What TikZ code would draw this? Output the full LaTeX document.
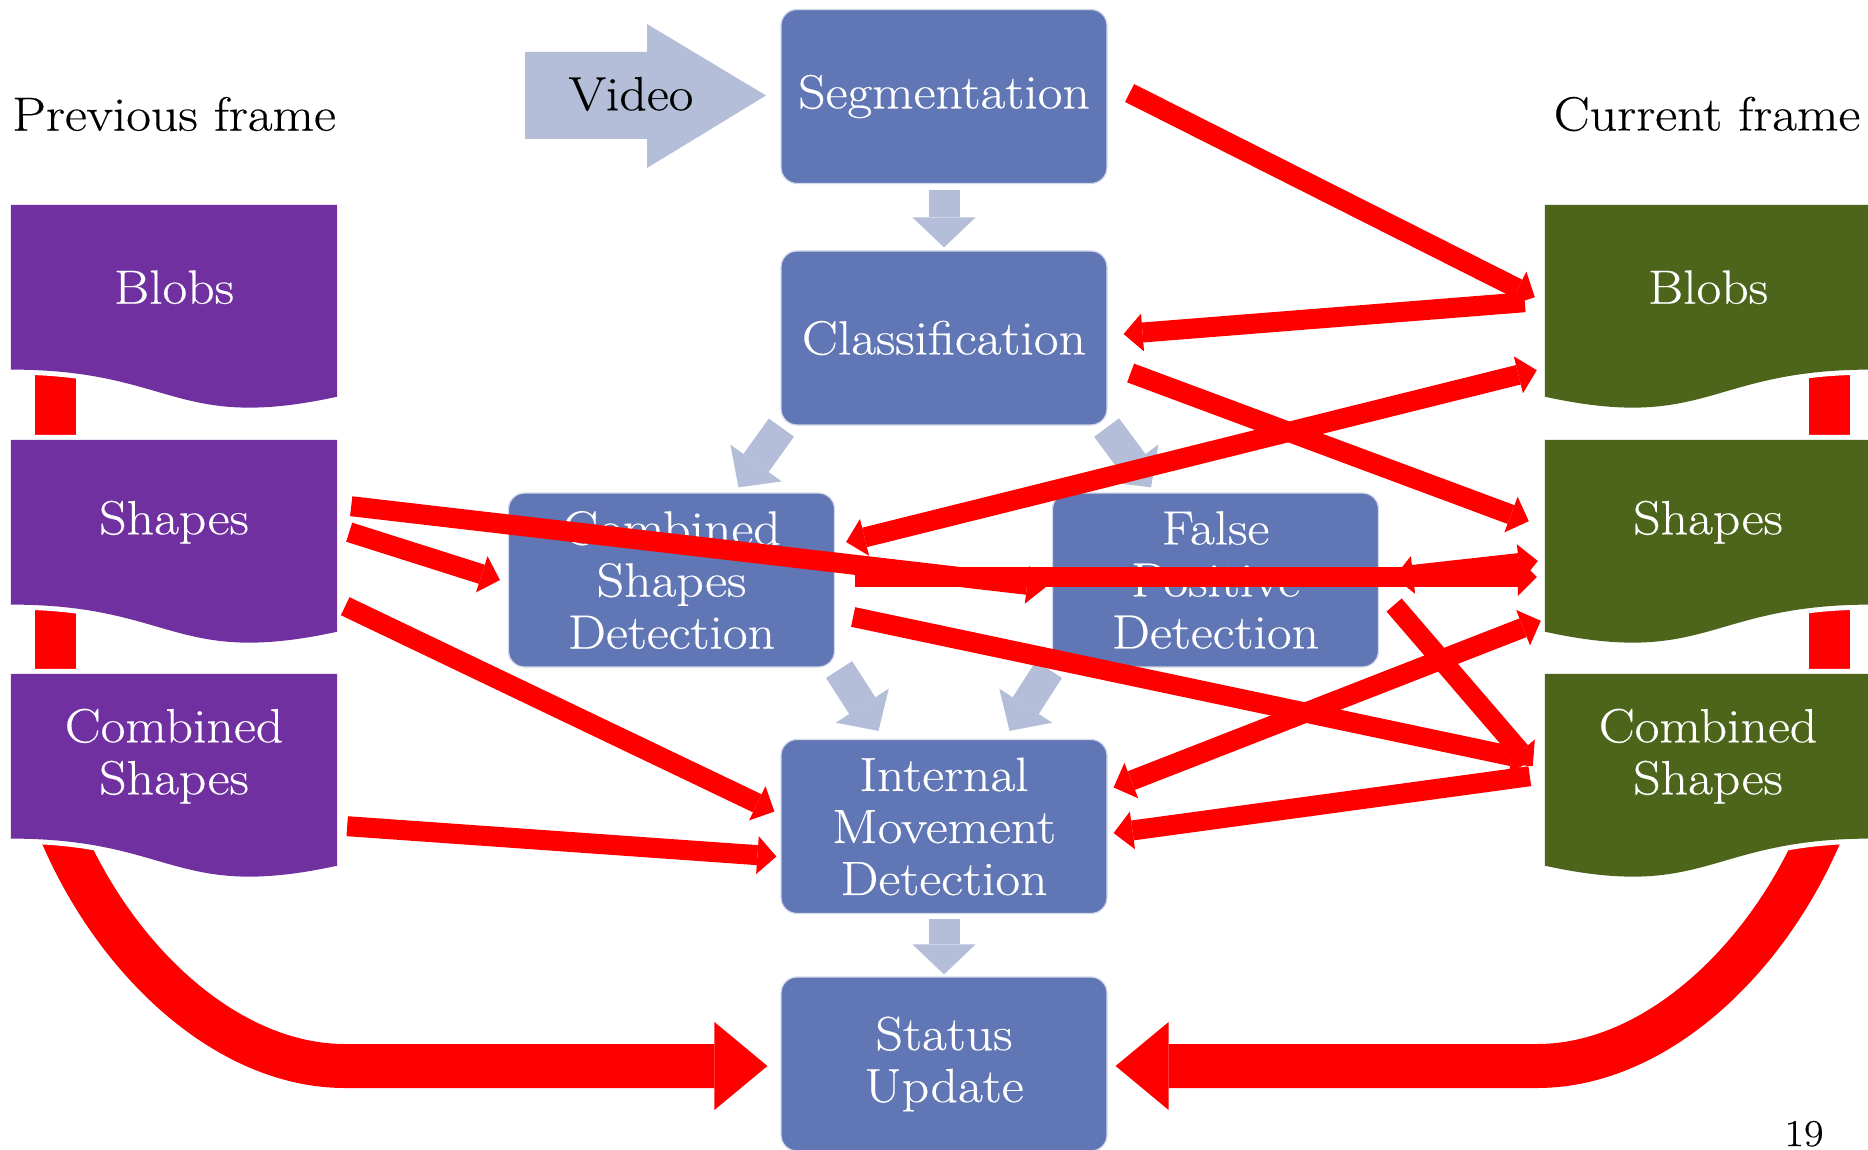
\documentclass[tikz,border=0pt]{standalone}
\usepackage{fontspec}
\setmainfont{Latin Modern Roman}[FakeStretch=1.12,FakeBold=0.4]
\usetikzlibrary{arrows.meta,backgrounds}

\definecolor{procblue}{RGB}{97,118,180}
\definecolor{flowgrey}{RGB}{181,190,216}
\definecolor{prevpurple}{RGB}{112,48,160}
\definecolor{currgreen}{RGB}{77,101,27}
\definecolor{linkred}{RGB}{255,0,0}
\pgfdeclareradialshading{slidebg}{\pgfpoint{0bp}{0bp}}{color(0bp)=(white); color(26bp)=(white); color(43bp)=(black!12); color(50bp)=(black!17)}

\begin{document}
\begin{tikzpicture}[
  x=1pt, y=-1pt,
  font=\fontsize{48}{52}\selectfont,
  >={Triangle[length=19pt,width=38pt,line width=0pt]},
  proc/.style={draw=white!72!procblue,line width=1.2pt,rounded corners=16pt,
               fill=procblue,text=white,minimum width=326pt,minimum height=174pt,
               align=center,inner sep=0pt},
  doc/.style={minimum width=326pt,minimum height=164.4pt,align=center,
              text=white,inner sep=0pt},
  docfill/.style={preaction={draw=white,line width=10pt}},
  flow/.style={draw=flowgrey,line width=31pt,
               -{Triangle[length=30pt,width=63pt,line width=0pt]}},
  link/.style={draw=linkred,line width=20pt,->},
  twoway/.style={link,<->},
  feedback/.style={draw=linkred,line width=44pt,
                   -{Triangle[length=53pt,width=88pt,line width=0pt]}},
  bridge/.style={draw=linkred,line width=41pt},
]
\useasboundingbox (0,0) rectangle (1868,1150);

% ---- headings over the two frame columns ----
\node (prevlbl) at (174,114) {Previous frame};
\node (currlbl) at (1707,114) {Current frame};

% ---- previous frame: purple cards ----
\node[doc] (pblobs)  at (174,287.2) {Blobs};
\node[doc] (pshapes) at (174,522.2) {Shapes};
\node[doc] (pcomb)   at (174,756.2) {Combined\\Shapes};

% ---- current frame: green cards ----
\node[doc] (cblobs)  at (1708,287.2) {Blobs};
\node[doc] (cshapes) at (1708,522.2) {Shapes};
\node[doc] (ccomb)   at (1708,756.2) {Combined\\Shapes};

% ---- processing chain ----
\node (video) at (631,94) {Video};
\node[proc] (seg) at (944,96.5)   {Segmentation};
\node[proc] (cls) at (944,338)    {Classification};
\node[proc] (csd) at (671.5,580)  {Combined\\Shapes\\Detection};
\node[proc] (fpd) at (1215.5,580) {False\\Positive\\Detection};
\node[proc] (imd) at (944,826.5)  {Internal\\Movement\\Detection};
\node[proc] (sta) at (944,1064)   {Status\\Update};

\node[anchor=base,font=\fontsize{38}{38}\selectfont] (pagenum) at (1804,1146) {19};

% backdrop: slide shading, input arrow, card bodies and the links under them
\begin{scope}[on background layer]
  \clip (0,0) rectangle (1868,1150);
  \shade[shading=slidebg] (-163,-522) rectangle (2031,1672);
  \fill[flowgrey] (525,52) -- (647,52) -- (647,24) -- (766,95.5)
        -- (647,168) -- (647,139) -- (525,139) -- cycle;

  % cards of one frame are chained
  \draw[bridge] ([xshift=45pt]pblobs.south west) -- ([xshift=45pt]pshapes.north west);
  \draw[bridge] ([xshift=45pt]pshapes.south west) -- ([xshift=45pt]pcomb.north west);
  \draw[bridge] ([xshift=-42pt]cblobs.south east) -- ([xshift=-42pt]cshapes.north east);
  \draw[bridge] ([xshift=-42pt]cshapes.south east) -- ([xshift=-42pt]ccomb.north east);

  % both combined shapes feed the status update
  \draw[feedback] ([xshift=48pt,yshift=12pt]pcomb.south west)
        .. controls (112,957) and (225,1066) .. (345,1066)
        -- ([xshift=-13pt,yshift=-2pt]sta.west);
  \draw[feedback] ([xshift=-48pt,yshift=12pt]ccomb.south east)
        .. controls (1770,957) and (1657,1066) .. (1537,1066)
        -- ([xshift=8pt,yshift=-2pt]sta.east);

  % document-shaped cards (left ones mirrored)
  \foreach \d in {pblobs,pshapes,pcomb}
    \fill[prevpurple,docfill] (\d.north west) -- (\d.north east)
        -- ([yshift=-27.1pt]\d.south east)
        .. controls ([yshift=-62.7pt]\d.south) and (\d.south) .. (\d.south west) -- cycle;
  \foreach \d in {cblobs,cshapes,ccomb}
    \fill[currgreen,docfill] (\d.north west) -- (\d.north east) -- (\d.south east)
        .. controls (\d.south) and ([yshift=-62.7pt]\d.south)
        .. ([yshift=-27.1pt]\d.south west) -- cycle;
\end{scope}

% ---- grey flow between the stages ----
\draw[flow] ([yshift=-6pt]seg.south) -- ([yshift=3pt]cls.north);
\draw[flow] ([xshift=1pt,yshift=-2pt]cls.south west) -- ([xshift=67pt,yshift=5pt]csd.north);
\draw[flow] ([xshift=-1pt,yshift=-2pt]cls.south east) -- ([xshift=-64.5pt,yshift=5pt]fpd.north);
\draw[flow] ([xshift=4pt,yshift=-2pt]csd.south east) -- ([xshift=-65.5pt,yshift=8pt]imd.north);
\draw[flow] ([xshift=-3pt,yshift=-2pt]fpd.south west) -- ([xshift=65.5pt,yshift=8pt]imd.north);
\draw[flow] ([yshift=-5pt]imd.south) -- ([yshift=2pt]sta.north);

% ---- red data links between frames and stages ----
\draw[link] ([xshift=22pt,yshift=3.5pt]seg.east) -- ([xshift=-10pt,yshift=-10pt]cblobs.west);
\draw[link] ([xshift=-20pt,yshift=-15pt]cblobs.west) -- ([xshift=16pt,yshift=4pt]cls.east);
\draw[link] ([xshift=23pt,yshift=-35pt]cls.east) -- ([xshift=-16pt,yshift=1pt]cshapes.west);
\draw[twoway] ([xshift=11pt,yshift=38pt]csd.east) -- ([xshift=-8pt,yshift=-83pt]cblobs.west);
\draw[link] ([xshift=14pt,yshift=16pt]pshapes.east) -- ([xshift=-6pt,yshift=-7pt]fpd.west);
\draw[link] ([xshift=20pt,yshift=3pt]csd.east) -- ([xshift=-8pt,yshift=-54.8pt]cshapes.west);
\draw[twoway] ([xshift=15pt,yshift=3pt]fpd.east) -- ([xshift=-7pt,yshift=-38.8pt]cshapes.west);
\draw[link] ([xshift=12pt,yshift=-10pt]pshapes.east) -- ([xshift=-8pt]csd.west);
\draw[link] ([xshift=18pt,yshift=-37pt]csd.east) -- ([xshift=-14pt,yshift=-4pt]ccomb.west);
\draw[link] ([xshift=-15pt,yshift=-20pt]ccomb.west) -- ([xshift=6pt,yshift=-6.5pt]imd.east);
\draw[twoway] ([xshift=6pt,yshift=39pt]imd.east) -- ([xshift=-4pt,yshift=-98.6pt]cshapes.west);
\draw[link] ([xshift=15pt,yshift=-25pt]fpd.east) -- ([xshift=-12pt,yshift=-10pt]ccomb.west);
\draw[link] ([xshift=8pt,yshift=-84pt]pshapes.east) -- ([xshift=-6pt,yshift=15pt]imd.west);
\draw[link] ([xshift=10pt,yshift=-70pt]pcomb.east) -- ([xshift=-4pt,yshift=-30pt]imd.west);

\end{tikzpicture}
\end{document}
